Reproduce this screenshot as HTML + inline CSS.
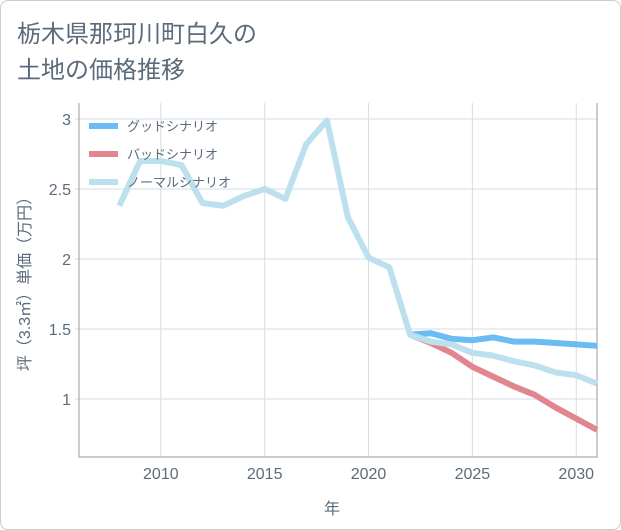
<!DOCTYPE html>
<html><head><meta charset="utf-8"><style>
body{margin:0;background:#fff;font-family:"Liberation Sans","Noto Sans CJK JP",sans-serif;}
#wrap{position:relative;width:619px;height:528px;border:1px solid #ccc;border-radius:8px;background:#fff;}
</style></head><body>
<div id="wrap">
<svg width="621" height="530" style="position:absolute;left:-1px;top:-1px" id="chart">
<text x="17" y="42" font-size="24" fill="#5b6b7b">栃木県那珂川町白久の</text>
<text x="17" y="78" font-size="24" fill="#5b6b7b">土地の価格推移</text>
<g id="grid"></g><g id="axes"></g><g id="series"></g><g id="legend"></g>
<text x="332" y="514" font-size="16" fill="#5b6b7b" text-anchor="middle">年</text>
<text transform="translate(30,280) rotate(-90)" font-size="16" fill="#5b6b7b" text-anchor="middle">坪（3.3㎡）単価（万円）</text>
</svg>
</div>
<script>
const years=[2008,2009,2010,2011,2012,2013,2014,2015,2016,2017,2018,2019,2020,2021,2022,2023,2024,2025,2026,2027,2028,2029,2030,2031];
const normalValues=[2.38,2.7,2.7,2.67,2.4,2.38,2.45,2.5,2.43,2.82,2.99,2.3,2.01,1.94,1.46,1.41,1.39,1.33,1.31,1.27,1.24,1.19,1.17,1.11];
const forecastYears=[2022,2023,2024,2025,2026,2027,2028,2029,2030,2031];
const goodValues=[1.46,1.47,1.43,1.42,1.44,1.41,1.41,1.40,1.39,1.38];
const badValues=[1.46,1.40,1.33,1.23,1.16,1.09,1.03,0.94,0.86,0.78];
const xTicks=[2010,2015,2020,2025,2030];
const yTicks=[1,1.5,2,2.5,3];
const yTickLabels=["1","1.5","2","2.5","3"];
const NS="http://www.w3.org/2000/svg";
const L=79,R=597,T=103,B=457;
const X=v=>L+(v-2006.06)/(2031-2006.06)*(R-L);
const Y=v=>B-(v-0.586)/(3.114-0.586)*(B-T);
function mk(t,a,p){const e=document.createElementNS(NS,t);for(const k in a)e.setAttribute(k,a[k]);p.appendChild(e);return e;}
const grid=document.getElementById('grid'),axes=document.getElementById('axes'),series=document.getElementById('series'),legend=document.getElementById('legend');
xTicks.forEach(t=>{const l=mk('line',{x1:X(t),x2:X(t),y1:T,y2:B,stroke:'#d5dde6','stroke-width':1},grid);

const tx=mk('text',{x:X(t),y:B+22,'font-size':16,fill:'#5b6b7b','text-anchor':'middle'},axes);tx.textContent=t;
});
yTicks.forEach((t,i)=>{const l=mk('line',{x1:L-4,x2:R,y1:Y(t),y2:Y(t),stroke:'#d5dde6','stroke-width':1},grid);

const tx=mk('text',{x:L-8,y:Y(t)+6,'font-size':16,fill:'#5b6b7b','text-anchor':'end'},axes);tx.textContent=yTickLabels[i];
});
const ax=mk('path',{d:`M${L},${T} V${B} H${R} V${T}`,fill:'none',stroke:'#999','stroke-width':1},axes);

function line(xs,vs,c,name){const d=xs.map((x,i)=>(i?'L':'M')+X(x)+','+Y(vs[i])).join(' ');
const p=mk('path',{d:d,fill:'none',stroke:c,'stroke-width':6,'stroke-linejoin':'round'},series);
}
line(forecastYears,badValues,'#e0868e','bad-scenario-line');
line(forecastYears,goodValues,'#6bbcf2','good-scenario-line');
line(years,normalValues,'#bde0ee','normal-scenario-line');
[['グッドシナリオ','#6bbcf2'],['バッドシナリオ','#e0868e'],['ノーマルシナリオ','#bde0ee']].forEach((e,i)=>{
const y=126+i*28;const g=mk('g',{},legend);

mk('line',{x1:89,x2:118,y1:y,y2:y,stroke:e[1],'stroke-width':6},g);
const t=mk('text',{x:127,y:y+5,'font-size':13,fill:'#5b6b7b'},g);t.textContent=e[0];});
</script>
</body></html>
